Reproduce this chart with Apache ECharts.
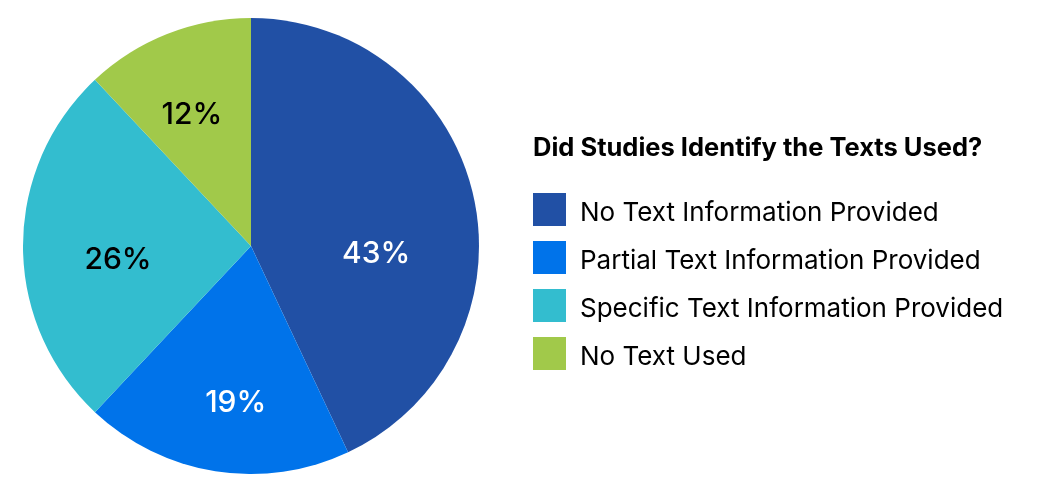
<!DOCTYPE html>
<html><head><meta charset="utf-8">
<script src="https://cdn.jsdelivr.net/npm/echarts@6/dist/echarts.min.js"></script>
<style>html,body{margin:0;padding:0;background:#fff}#c{width:1042px;height:492px}</style>
</head><body><div id="c"></div>
<script>
const categories = ["No Text Information Provided","Partial Text Information Provided","Specific Text Information Provided","No Text Used"];
const values = [43, 19, 26, 12];
const colors = ["#2150a5","#0073ea","#33bdcf","#a1c94a"];
const labelColors = ["#ffffff","#ffffff","#000000","#000000"];
const labelOffsets = [[11,34],[3,41],[-16,14],[-16,-22]];
const legendTitle = "Did Studies Identify the Texts Used?";
const FONT = "Inter, 'Open Sans', sans-serif";

const chart = echarts.init(document.getElementById('c'), null, {renderer:'canvas'});
chart.setOption({
  animation:false,
  title:{text:legendTitle,left:533,top:135,padding:0,textStyle:{fontFamily:FONT,fontWeight:'bold',fontSize:25.5,color:'#000'}},
  legend:{orient:'vertical',left:533,top:193,padding:0,itemWidth:33,itemHeight:33,itemGap:15,icon:'rect',
    textStyle:{fontFamily:FONT,fontSize:26,lineHeight:26,color:'#000',padding:[0,0,0,9],
      rich:{a:{fontFamily:FONT,fontSize:26,padding:[7,0,0,0]}}},
    formatter:n=>'{a|'+n+'}',data:categories},
  series:[{type:'pie',center:[251,246],radius:[0,228],startAngle:90,clockwise:true,
    label:{show:true,position:'inside',fontFamily:FONT,fontSize:30,fontWeight:500,formatter:p=>p.value+'%'},
    labelLine:{show:false},
    labelLayout:p=>({dx:labelOffsets[p.dataIndex][0],dy:labelOffsets[p.dataIndex][1]}),
    itemStyle:{borderWidth:0},
    emphasis:{disabled:true},
    data:categories.map((n,i)=>({name:n,value:values[i],itemStyle:{color:colors[i]},label:{color:labelColors[i]}}))
  }]
});
</script></body></html>
